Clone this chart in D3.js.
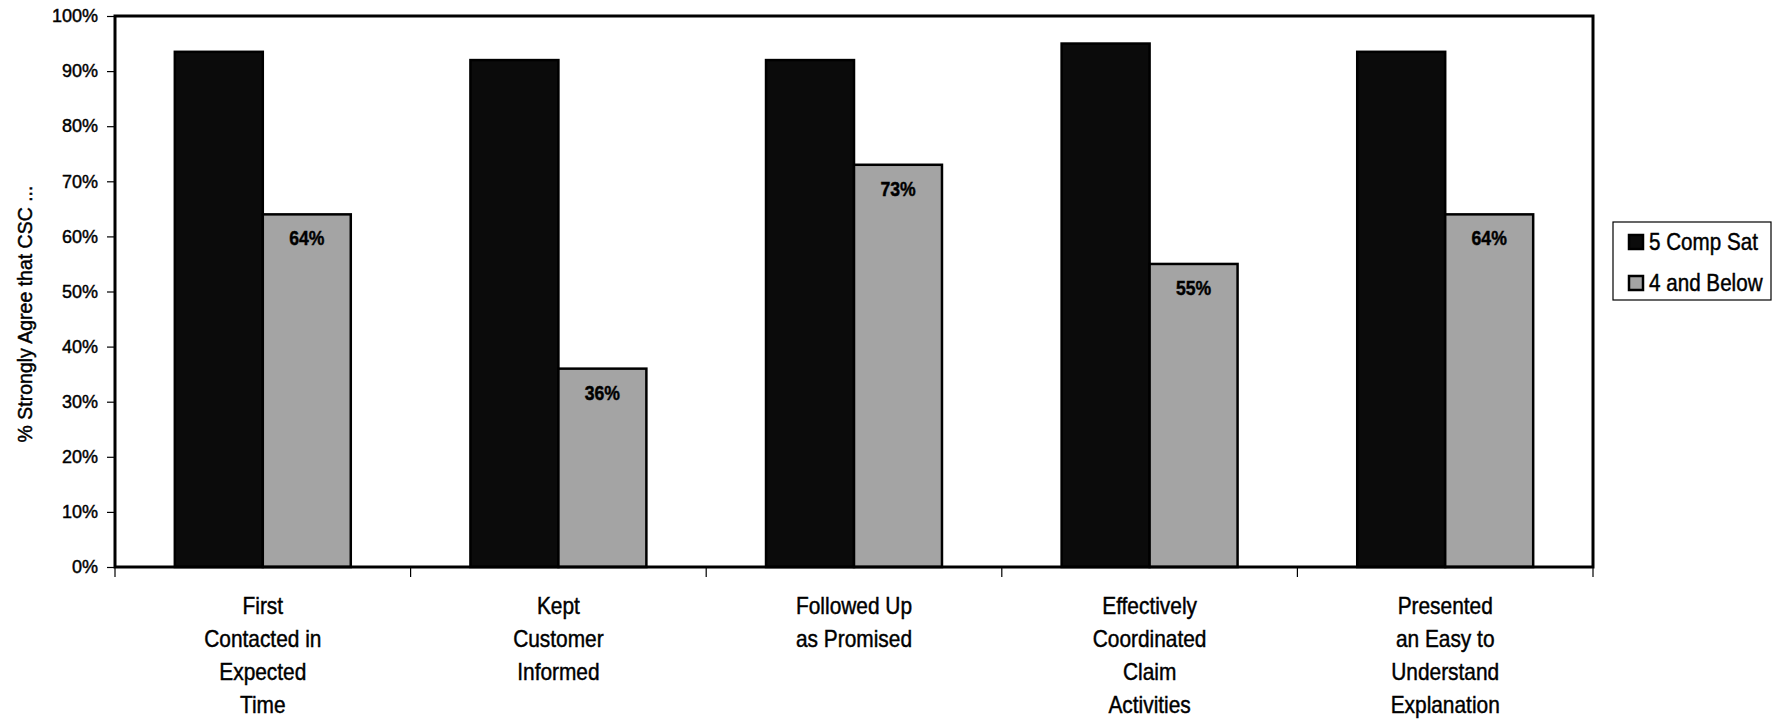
<!DOCTYPE html>
<html>
<head>
<meta charset="utf-8">
<script src="https://cdn.jsdelivr.net/npm/d3@7"></script>
<style>
  html, body { margin: 0; padding: 0; background: #fff; }
  svg text { font-family: "Liberation Sans", Arial, Helvetica, sans-serif; fill: #000; stroke: #000; stroke-width: 0.45px; }
</style>
</head>
<body>
<svg id="chart" width="1773" height="721"></svg>
<script>
// Survey categories (multi-line axis labels)
const categories = [
  ["First", "Contacted in", "Expected", "Time"],
  ["Kept", "Customer", "Informed"],
  ["Followed Up", "as Promised"],
  ["Effectively", "Coordinated", "Claim", "Activities"],
  ["Presented", "an Easy to", "Understand", "Explanation"]
];
const seriesNames = ["5 Comp Sat", "4 and Below"];
// Percent strongly agreeing, per category
const compSat = [93.5, 92, 92, 95, 93.5];
const fourAndBelow = [64, 36, 73, 55, 64];
const yTicks = [0, 10, 20, 30, 40, 50, 60, 70, 80, 90, 100];

const seriesFill = ["#0b0b0b", "#a4a4a4"];

const svg = d3.select("#chart");
const plot = { left: 115, right: 1593, top: 16, bottom: 567 };

const catKeys = categories.map((c, i) => i);
const x0 = d3.scaleBand().domain(catKeys).range([plot.left, plot.right]).padding(0);
const x1 = d3.scaleBand().domain([0, 1]).range([0, x0.bandwidth()]).paddingInner(0).paddingOuter(0.68);
const y = d3.scaleLinear().domain([0, 100]).range([plot.bottom, plot.top]);

// Y axis ticks and labels
const yAxis = d3.axisLeft(y).tickValues(yTicks).tickSize(8).tickPadding(9).tickFormat(d => d + "%");
const gy = svg.append("g").attr("transform", `translate(${plot.left},0)`).call(yAxis);
gy.select(".domain").remove();
gy.selectAll(".tick line").attr("stroke", "#000").attr("stroke-width", 1.2);
gy.selectAll(".tick text").attr("font-size", 18).attr("fill", "#000")
  .style("font-family", "'Liberation Sans', Arial, sans-serif");

// Category boundary ticks below the x axis
const boundaries = catKeys.map(i => x0(i)).concat([plot.right]);
svg.append("g").selectAll("line").data(boundaries).join("line")
  .attr("x1", d => d).attr("x2", d => d)
  .attr("y1", plot.bottom).attr("y2", plot.bottom + 10)
  .attr("stroke", "#000").attr("stroke-width", 1.2);

// Bars
const rows = catKeys.map(i => ({ i, values: [compSat[i], fourAndBelow[i]] }));
const groups = svg.append("g").selectAll("g").data(rows).join("g")
  .attr("transform", d => `translate(${x0(d.i)},0)`);

groups.selectAll("rect").data(d => d.values.map((v, s) => ({ v, s }))).join("rect")
  .attr("x", d => x1(d.s))
  .attr("y", d => y(d.v))
  .attr("width", x1.bandwidth())
  .attr("height", d => y(0) - y(d.v))
  .attr("fill", d => seriesFill[d.s])
  .attr("stroke", "#000")
  .attr("stroke-width", 2.5);

// Value labels on the "4 and Below" bars
groups.append("text")
  .attr("transform", d => `translate(${x1(1) + x1.bandwidth() / 2},${y(fourAndBelow[d.i]) + 31}) scale(0.88,1)`)
  .attr("text-anchor", "middle")
  .attr("font-size", 20)
  .attr("font-weight", "bold")
  .text(d => fourAndBelow[d.i] + "%");

// Plot frame
svg.append("rect")
  .attr("x", plot.left).attr("y", plot.top)
  .attr("width", plot.right - plot.left).attr("height", plot.bottom - plot.top)
  .attr("fill", "none").attr("stroke", "#000").attr("stroke-width", 3);

// Category labels
const lineGap = 33;
catKeys.forEach(i => {
  const cx = x0(i) + x0.bandwidth() / 2;
  categories[i].forEach((line, k) => {
    svg.append("text")
      .attr("transform", `translate(${cx},${614 + k * lineGap}) scale(0.87,1)`)
      .attr("text-anchor", "middle")
      .attr("font-size", 24)
      .text(line);
  });
});

// Y axis title
svg.append("text")
  .attr("transform", `translate(32,314) rotate(-90)`)
  .attr("text-anchor", "middle")
  .attr("font-size", 19.5)
  .text("% Strongly Agree that CSC ...");

// Legend
const legend = svg.append("g").attr("transform", "translate(1613,222)");
legend.append("rect").attr("x", 0).attr("y", 0).attr("width", 158).attr("height", 78)
  .attr("fill", "#fff").attr("stroke", "#000").attr("stroke-width", 1.2);
seriesNames.forEach((name, s) => {
  const cy = 20 + s * 41;
  legend.append("rect")
    .attr("x", 16).attr("y", cy - 7).attr("width", 14).attr("height", 14)
    .attr("fill", seriesFill[s]).attr("stroke", "#000").attr("stroke-width", 2.5);
  legend.append("text")
    .attr("transform", `translate(36,${cy + 8}) scale(0.86,1)`)
    .attr("font-size", 24)
    .text(name);
});
</script>
</body>
</html>
